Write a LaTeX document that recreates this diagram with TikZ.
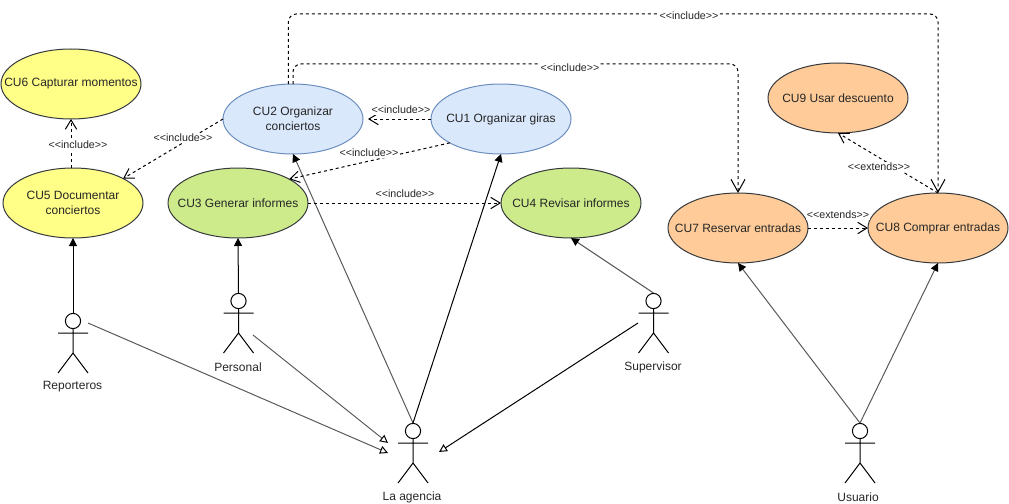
\documentclass[tikz,border=0pt]{standalone}
\usepackage{fontspec}
\setmainfont{Liberation Sans}
\usetikzlibrary{arrows.meta,shapes.geometric,calc}
\definecolor{yfill}{HTML}{FFFF88}
\definecolor{bfill}{HTML}{DAE8FC}
\definecolor{bline}{HTML}{6C8EBF}
\definecolor{gfill}{HTML}{CDEB8B}
\definecolor{ofill}{HTML}{FFCC99}
\definecolor{dline}{HTML}{36393D}
\newcommand{\incl}{<\kern0pt<include>\kern0pt>}
\newcommand{\extd}{<\kern0pt<extends>\kern0pt>}
\tikzset{
  usecase/.style={ellipse,draw=dline,line width=0.75pt,minimum width=105pt,minimum height=52.5pt,inner sep=-30pt,outer sep=0pt,align=center,font=\fontsize{9}{11.25}\selectfont,text=black!85},
  ucy/.style={usecase,fill=yfill},
  ucb/.style={usecase,fill=bfill,draw=bline},
  ucg/.style={usecase,fill=gfill},
  uco/.style={usecase,fill=ofill},
  actorbox/.style={minimum width=22.5pt,minimum height=45pt,inner sep=0pt,outer sep=0pt},
  actorline/.style={line width=0.75pt,black},
  actorname/.style={font=\fontsize{9}{11}\selectfont,inner sep=0pt,text=black!85},
  assoc/.style={line width=0.75pt,-{Triangle[length=6pt,width=6pt]}},
  assocg/.style={assoc,black!65,-{Triangle[length=6pt,width=6pt,black]}},
  gener/.style={line width=0.75pt,black!65,-{Triangle[open,length=6pt,width=6pt,black]}},
  dep/.style={line width=0.75pt,dash pattern=on 2.25pt off 2.25pt,-{Straight Barb[length=7pt,width=8.5pt]}},
  depbig/.style={dep,rounded corners=6pt,-{Straight Barb[length=9.5pt,width=10.5pt]}},
  deplabel/.style={font=\fontsize{8}{9.5}\selectfont,fill=white,inner sep=0.6pt,text=black!85},
}
\newcommand{\actorfig}[3]{%
  \begin{scope}[shift={(#2,#3)}]
    \node[actorbox] (#1) at (0,30) {};
    \draw[actorline] (0,8) circle (5.7pt);
    \draw[actorline] (0,15.6) -- (0,40) (-15,20) -- (15,20) (-15,60) -- (0,40) -- (15,60);
  \end{scope}}
\begin{document}
\begin{tikzpicture}[x=0.75pt,y=-0.75pt]
\useasboundingbox (0,0) rectangle (1009,503);
% use cases
\node[ucy] (cu6) at (71,84) {CU6 Capturar momentos};
\node[ucy] (cu5) at (73,203) {CU5 Documentar\\conciertos};
\node[ucb] (cu2) at (293,119) {CU2 Organizar\\conciertos};
\node[ucg] (cu3) at (238,203) {CU3 Generar informes};
\node[ucb] (cu1) at (501,119) {CU1 Organizar giras};
\node[ucg] (cu4) at (571,203) {CU4 Revisar informes};
\node[uco] (cu9) at (838,98) {CU9 Usar descuento};
\node[uco] (cu7) at (738,228) {CU7 Reservar entradas};
\node[uco] (cu8) at (938,228) {CU8 Comprar entradas};
% actors
\actorfig{rep}{73}{313}
\actorfig{per}{238.5}{293}
\actorfig{age}{413}{423}
\actorfig{sup}{653.5}{293}
\actorfig{usu}{860}{423}
\node[actorname] (lrep) at (72.5,387) {Reporteros};
\node[actorname] (lper) at (238,367) {Personal};
\node[actorname] (lage) at (412,497) {La agencia};
\node[actorname] (lsup) at (653,367) {Supervisor};
\node[actorname] (lusu) at (858,497) {Usuario};
% free ends
\coordinate (repr) at (88,323);
\coordinate (perr) at (253,335);
\coordinate (supl) at (638,323);
\coordinate (agea) at (388,443);
\coordinate (ageb) at (388,453);
\coordinate (agec) at (439,452);
% associations
\draw[assoc] (rep.north) -- (cu5.south);
\draw[assoc] (per.north) -- (cu3.south);
\draw[assocg] (age.north) -- (cu2.south);
\draw[assoc] (age.north) -- (cu1.south);
\draw[assocg] (sup.north) -- (cu4.south);
\draw[assocg] (usu.north) -- (cu7.south);
\draw[assocg] (usu.north) -- (cu8.south);
% generalisations
\draw[gener] (repr) -- (ageb);
\draw[gener] (perr) -- (agea);
\draw[gener,black] (supl) -- (agec);
% dependencies
\draw[dep] (cu5.north -| cu6.south) -- (cu6.south);
\draw[dep] (cu2.west) -- (cu5.26);
\draw[dep] (cu1.west) -- ([xshift=3.75pt]cu2.east);
\draw[dep] (cu1.205.6) -- (cu3.25.7);
\draw[dep] (cu3.east) -- (cu4.west);
\draw[depbig] (cu2.north) -- (cu2.north |- 0,64) -- (cu7.north |- 0,64) -- (cu7.north);
\draw[depbig] ([xshift=-3.5pt]cu2.north) -- ([xshift=-3.5pt]cu2.north |- 0,14) -- (cu8.north |- 0,14) -- (cu8.north);
\draw[dep] (cu7.east) -- (cu8.west);
\draw[dep] (cu8.north) -- (cu9.south);
% labels
\node[deplabel] (l1) at (78,145) {\incl};
\node[deplabel] (l2) at (183,138) {\incl};
\node[deplabel] (l3) at (401,110) {\incl};
\node[deplabel] (l4) at (369,153) {\incl};
\node[deplabel] (l5) at (405,194) {\incl};
\node[deplabel] (l6) at (570,68) {\incl};
\node[deplabel] (l7) at (689,16) {\incl};
\node[deplabel] (l8) at (838,215) {\extd};
\node[deplabel] (l9) at (879,167) {\extd};
\end{tikzpicture}
\end{document}
